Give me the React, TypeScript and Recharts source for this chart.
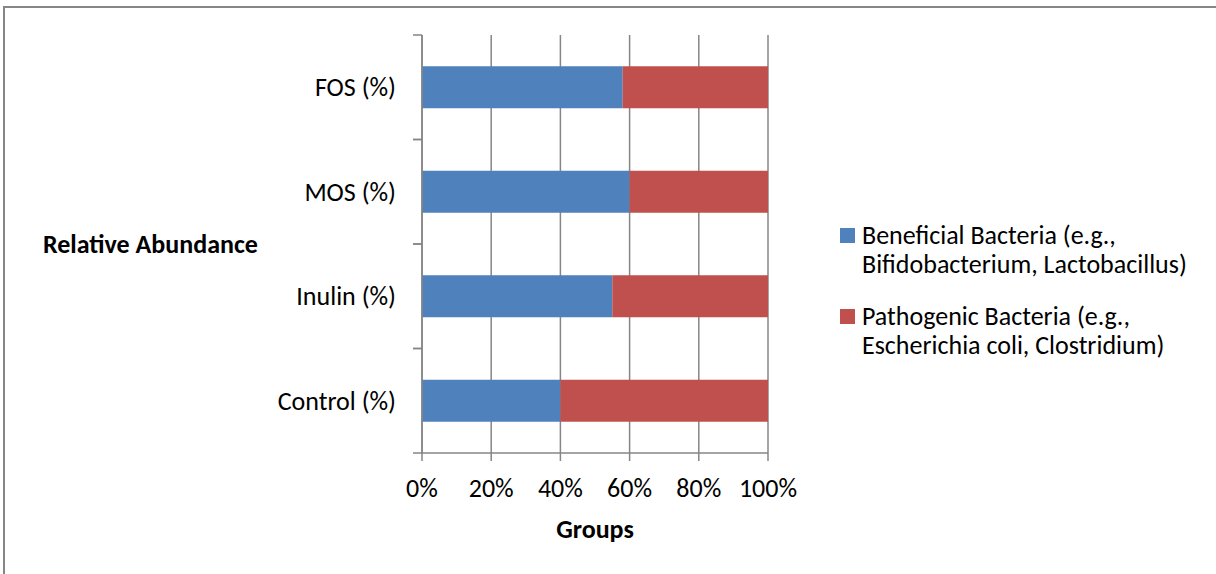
import { BarChart, Bar, XAxis, YAxis, CartesianGrid, Legend } from 'recharts'

const groups = ['FOS (%)', 'MOS (%)', 'Inulin (%)', 'Control (%)']
const beneficial = [58, 60, 55, 40]
const pathogenic = [42, 40, 45, 60]
const seriesNames = [
  'Beneficial Bacteria (e.g., Bifidobacterium, Lactobacillus)',
  'Pathogenic Bacteria (e.g., Escherichia coli, Clostridium)',
]
const seriesColors = ['#4F81BD', '#C0504D']
const xTicks = [0, 0.2, 0.4, 0.6, 0.8, 1]

const data = groups.map((g, i) => ({
  group: g,
  beneficial: beneficial[i],
  pathogenic: pathogenic[i],
}))

const FONT = 'Carlito, Calibri, Lato, sans-serif'
const FS = 26
const AXIS = '#868686'

function CategoryTick(props: any) {
  const { x, y, payload } = props
  const half = payload.offset ?? 52
  return (
    <g>
      <text x={x} y={y} dy="0.35em" textAnchor="end" fontSize={FS} fontFamily={FONT} fill="#000">
        {payload.value}
      </text>
      <line x1={x + 17} x2={x + 26} y1={y - half} y2={y - half} stroke={AXIS} strokeWidth={1.5} />
      <line x1={x + 17} x2={x + 26} y1={y + half} y2={y + half} stroke={AXIS} strokeWidth={1.5} />
    </g>
  )
}

function LegendBox({ payload }: any) {
  return (
    <div style={{ fontFamily: FONT, fontSize: FS, lineHeight: '29px', color: '#000' }}>
      {(payload || []).map((item: any, i: number) => (
        <div key={i} style={{ display: 'flex', alignItems: 'flex-start', marginBottom: 23 }}>
          <div
            style={{
              width: 15,
              height: 15,
              background: item.color,
              marginTop: 7,
              marginRight: 7,
              flexShrink: 0,
            }}
          />
          <div style={{ width: 345 }}>{item.value}</div>
        </div>
      ))}
    </div>
  )
}

export default function App() {
  return (
    <div
      style={{
        position: 'absolute',
        left: 0,
        top: 0,
        width: 1216,
        height: 574,
        overflow: 'hidden',
        background: '#fff',
        fontFamily: FONT,
      }}
    >
      <div
        style={{
          position: 'absolute',
          left: 3,
          top: 6,
          width: 1300,
          height: 700,
          border: `2px solid ${AXIS}`,
        }}
      />
      <BarChart
        width={1216}
        height={574}
        data={data}
        layout="vertical"
        stackOffset="expand"
        barCategoryGap="30%"
        margin={{ top: 35, right: 448, bottom: 0, left: 0 }}
        style={{ position: 'absolute', left: 0, top: 0 }}
      >
        <CartesianGrid horizontal={false} stroke={AXIS} strokeWidth={1.5} />
        <XAxis
          type="number"
          domain={[0, 1]}
          ticks={xTicks}
          height={121}
          tickFormatter={(v: number) => `${Math.round(v * 100)}%`}
          tick={{ fill: '#000', fontSize: FS, fontFamily: FONT }}
          axisLine={{ stroke: AXIS, strokeWidth: 1.5 }}
          tickLine={{ stroke: AXIS, strokeWidth: 1.5 }}
          tickSize={8}
          tickMargin={18}
          label={{
            value: 'Groups',
            position: 'insideTop',
            offset: 67,
            style: { fontSize: FS, fontWeight: 700, fontFamily: FONT, fill: '#000' },
          }}
        />
        <YAxis
          type="category"
          dataKey="group"
          width={422}
          tick={<CategoryTick />}
          tickLine={false}
          tickSize={0}
          tickMargin={26}
          axisLine={{ stroke: AXIS, strokeWidth: 1.5 }}
          label={{
            value: 'Relative Abundance',
            position: 'insideLeft',
            offset: 43,
            style: { fontSize: FS, fontWeight: 700, fontFamily: FONT, fill: '#000' },
          }}
        />
        <Legend
          layout="vertical"
          align="center"
          verticalAlign="middle"
          content={<LegendBox />}
          wrapperStyle={{ left: 840, top: 221, width: 370 }}
        />
        <Bar
          dataKey="beneficial"
          name={seriesNames[0]}
          stackId="a"
          fill={seriesColors[0]}
          isAnimationActive={false}
        />
        <Bar
          dataKey="pathogenic"
          name={seriesNames[1]}
          stackId="a"
          fill={seriesColors[1]}
          isAnimationActive={false}
        />
      </BarChart>
    </div>
  )
}
